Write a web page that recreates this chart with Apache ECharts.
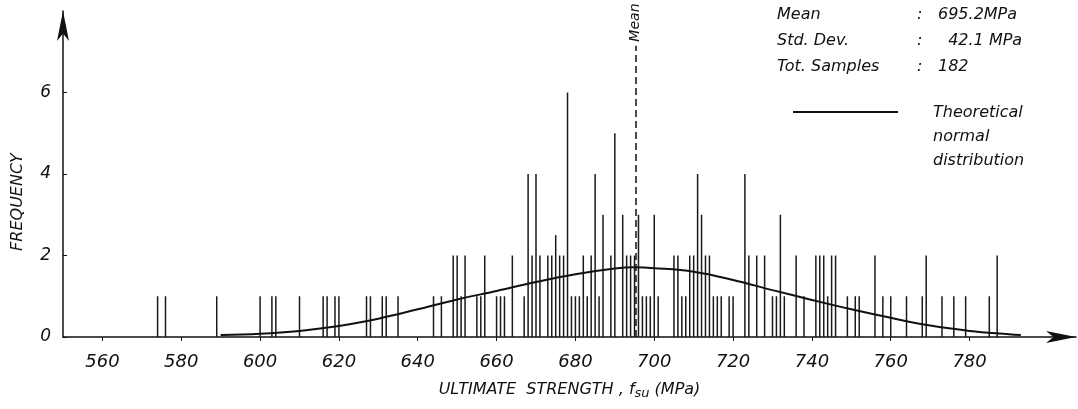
<!DOCTYPE html>
<html>
<head>
<meta charset="utf-8">
<script src="https://cdn.jsdelivr.net/npm/echarts@6/dist/echarts.min.js"></script>
<style>
  html, body { margin:0; padding:0; background:#fff; }
  #chart { width:1078px; height:409px; }
</style>
</head>
<body>
<div id="chart"></div>
<script>
// ====== data ======
const strengthMPa = [574,576,589,600,603,604,610,616,617,619,620,627,628,631,632,635,
  644,646,649,650,651,652,655,656,657,660,661,662,664,667,668,669,670,671,673,674,675,676,677,678,679,
  680,681,682,683,684,685,686,687,689,690,692,693,694,695,696,697,698,699,700,701,
  705,706,707,708,709,710,711,712,713,714,715,716,717,719,720,723,724,726,728,730,731,732,733,736,738,
  741,742,743,744,745,746,749,751,752,756,758,760,764,768,769,773,776,779,785,787];
const frequency = [1,1,1,1,1,1,1,1,1,1,1,1,1,1,1,1,
  1,1,2,2,1,2,1,1,2,1,1,1,2,1,4,2,4,2,2,2,2.5,2,2,6,1,
  1,1,2,1,2,4,1,3,2,5,3,2,2,2,3,1,1,1,3,1,
  2,2,1,1,2,2,4,3,2,2,1,1,1,1,1,4,2,2,2,1,1,3,1,2,1,
  2,2,2,1,2,2,1,1,1,2,1,1,1,1,2,1,1,1,1,2];

// normal curve, points
const curveX = [590,600,610,620,630,640,650,660,670,680,690,695,700,710,720,730,740,750,760,770,780,790,793];
const curveY = [0.05,0.08,0.15,0.27,0.45,0.68,0.92,1.13,1.35,1.54,1.68,1.71,1.69,1.60,1.40,1.15,0.91,0.68,0.47,0.28,0.15,0.07,0.05];

const xTicks = [560,580,600,620,640,660,680,700,720,740,760,780];
const yTicks = [0,2,4,6];
const meanValue = 695.2;
const meanTop = 7.15;
const statLines = [
  ['Mean', ':', '695.2MPa'],
  ['Std. Dev.', ':', '  42.1 MPa'],
  ['Tot. Samples', ':', '182']
];
const curveLabel = ['Theoretical', 'normal', 'distribution'];

// ====== chart ======
const FONT = 'DejaVu Sans';
const chart = echarts.init(document.getElementById('chart'));

const txt = (x, y, s, extra) => Object.assign({
  type:'text', x, y,
  style:{ text:s, fill:'#111', font:'italic 16px "' + FONT + '"', textVerticalAlign:'middle' }
}, extra || {});

const graphics = [];
statLines.forEach((row, i) => {
  const y = 15 + i * 26;
  graphics.push(txt(777, y, row[0]));
  graphics.push(txt(917, y, row[1]));
  graphics.push(txt(938, y, row[2]));
});
graphics.push({ type:'line', shape:{ x1:793, y1:112, x2:898, y2:112 }, style:{ stroke:'#111', lineWidth:2 } });
curveLabel.forEach((s, i) => graphics.push(txt(933, 113 + i * 24, s)));
graphics.push({
  type:'text', x:18, y:202, rotation:Math.PI/2,
  style:{ text:'FREQUENCY', fill:'#111', font:'italic 16px "' + FONT + '"', textAlign:'center', textVerticalAlign:'middle' }
});

chart.setOption({
  animation:false,
  backgroundColor:'#fff',
  grid:{ left:63, right:2, top:11, bottom:72 },
  xAxis:{
    type:'value', min:550, max:807,
    name:'ULTIMATE  STRENGTH , f{sub|su} (MPa)',
    nameLocation:'middle', nameGap:42,
    nameTextStyle:{
      color:'#111', fontFamily:FONT, fontStyle:'italic', fontSize:16,
      rich:{ sub:{ fontFamily:FONT, fontStyle:'italic', fontSize:13, color:'#111', verticalAlign:'bottom', padding:[8,0,0,0] } }
    },
    axisLine:{ show:true, lineStyle:{ color:'#111', width:1.5 }, symbol:['none','arrow'], symbolSize:[9,30] },
    axisTick:{ show:true, length:4, lineStyle:{ color:'#111' }, customValues:xTicks },
    axisLabel:{ color:'#111', fontFamily:FONT, fontStyle:'italic', fontSize:18, margin:16, customValues:xTicks },
    splitLine:{ show:false }
  },
  yAxis:{
    type:'value', min:0, max:8,
    axisLine:{ show:true, lineStyle:{ color:'#111', width:1.5 }, symbol:['none','arrow'], symbolSize:[9,30] },
    axisTick:{ show:true, inside:true, length:4, lineStyle:{ color:'#111' }, customValues:yTicks },
    axisLabel:{ color:'#111', fontFamily:FONT, fontStyle:'italic', fontSize:17, margin:12, customValues:yTicks },
    splitLine:{ show:false }
  },
  series:[
    {
      name:'frequency', type:'bar', barWidth:1.5, barGap:'-100%',
      itemStyle:{ color:'#1a1a1a' },
      data: strengthMPa.map((x, i) => [x, frequency[i]]),
      markLine:{
        silent:true, symbol:['none','none'], label:{ show:false },
        lineStyle:{ color:'#111', type:[7,4], width:1.5 },
        data:[[ { coord:[meanValue, 0] }, { coord:[meanValue, meanTop] } ]]
      }
    },
    {
      name:'normal', type:'line', smooth:0.4, showSymbol:false,
      lineStyle:{ color:'#111', width:2 },
      data: curveX.map((x, i) => [x, curveY[i]])
    }
  ],
  graphic: graphics
});

// "Mean" label above the dashed line
const mx = chart.convertToPixel({ xAxisIndex:0 }, meanValue);
const my = chart.convertToPixel({ yAxisIndex:0 }, meanTop);
graphics.push({
  type:'text', x:mx, y:my - 4, rotation:Math.PI/2,
  style:{ text:'Mean', fill:'#111', font:'italic 14px "' + FONT + '"', textAlign:'left', textVerticalAlign:'middle' }
});
chart.setOption({ graphic: graphics }, { replaceMerge:['graphic'] });
</script>
</body>
</html>
